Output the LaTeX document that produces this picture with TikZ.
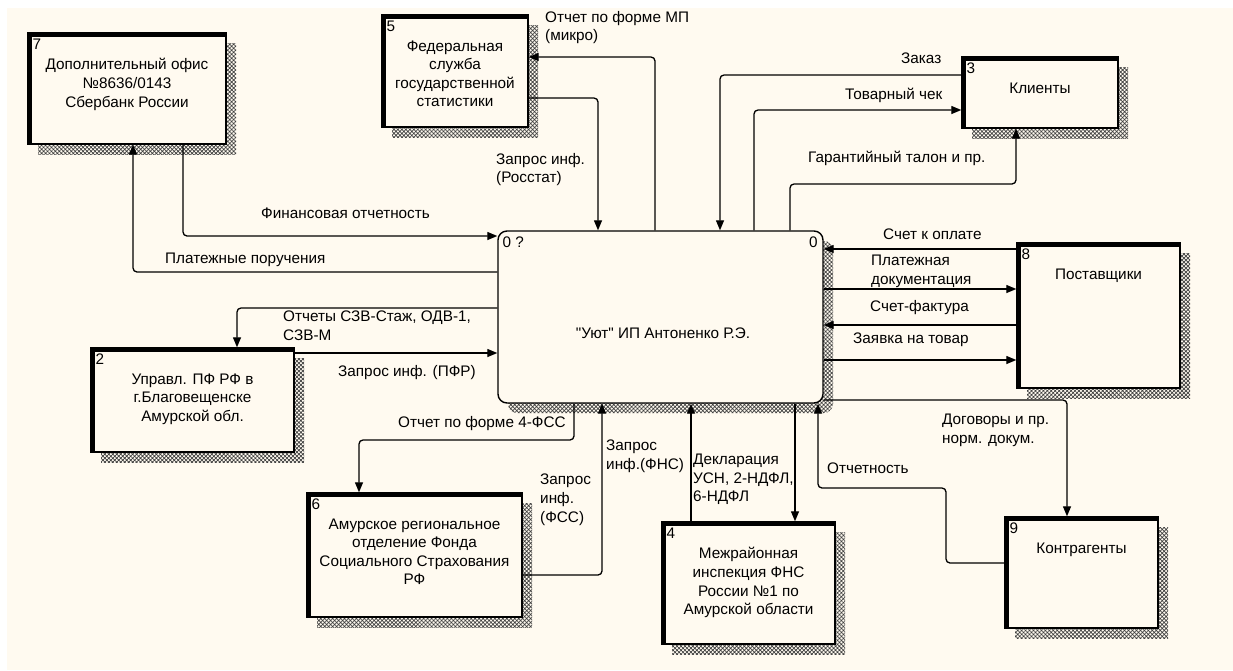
\documentclass[tikz,border=0pt]{standalone}
\usepackage{fontspec}
\setmainfont{Liberation Sans}[Ligatures=TeXOff]
\usetikzlibrary{arrows.meta,shadows,patterns.meta}
\definecolor{idefbg}{RGB}{255,250,240}

\begin{document}
\begin{tikzpicture}[x=1pt, y=-1pt, font=\fontsize{15.3}{18.6}\selectfont,
    hatch/.style={general shadow={shadow xshift=10pt, shadow yshift=-10pt,
        pattern={Hatch[angle=45, distance=2.8pt, line width=0.7pt]}, pattern color=black!75}},
    extbox/.style={draw, line width=1.4pt, fill=idefbg, hatch},
    boxnum/.style={anchor=north west, inner sep=0pt, xshift=5pt, yshift=-6pt},
    boxtxt/.style={anchor=north, align=center, inner sep=0pt, yshift=-26pt},
    mainbox/.style={draw, line width=1.4pt, rounded corners=9pt, fill=idefbg, hatch},
    flow/.style={-{Triangle[length=10pt, width=8pt]}, line width=1.3pt, rounded corners=4pt},
    lbl/.style={anchor=north west, align=left, inner sep=0pt}]

     \useasboundingbox (0,0) rectangle (1233,670);
     \fill[idefbg] (7,8) rectangle (1233,670);

     % Main activity
     \node[mainbox, minimum width=325pt, minimum height=172pt] (main) at (660.5,317) {};
     \node[anchor=north west, inner sep=0pt] (mainnum) at ([shift={(5pt,-6pt)}]main.north west) {0 ?};
     \node[anchor=north east, inner sep=0pt] (mainref) at ([shift={(-6pt,-6pt)}]main.north east) {0};
     \node (maintxt) at (663,333) {"Уют" ИП Антоненко Р.Э.};

     % Sberbank
     \node[extbox, minimum width=198pt, minimum height=111pt,
           label={[boxnum, name=b7num]north west:7},
           label={[boxtxt, name=b7txt]north:{Дополнительный офис\\№8636/0143\\Сбербанк России}}] (b7) at (127,88.5) {};

     % Rosstat
     \node[extbox, minimum width=146pt, minimum height=112pt,
           label={[boxnum, name=b5num]north west:5},
           label={[boxtxt, name=b5txt]north:{Федеральная\\служба\\государственной\\статистики}}] (b5) at (455,71) {};

     % Clients
     \node[extbox, minimum width=156pt, minimum height=71pt,
           label={[boxnum, name=b3num]north west:3},
           label={[boxtxt, name=b3txt]north:{Клиенты}}] (b3) at (1040,92.5) {};

     % Suppliers
     \node[extbox, minimum width=163pt, minimum height=145pt,
           label={[boxnum, name=b8num]north west:8},
           label={[boxtxt, name=b8txt]north:{Поставщики}}] (b8) at (1098.5,315.5) {};

     % Pension fund
     \node[extbox, minimum width=203pt, minimum height=104pt,
           label={[boxnum, name=b2num]north west:2},
           label={[boxtxt, name=b2txt]north:{Управл. ПФ РФ в\\г.Благовещенске\\Амурской обл.}}] (b2) at (192.5,400) {};

     % Social insurance fund
     \node[extbox, minimum width=215pt, minimum height=124pt,
           label={[boxnum, name=b6num]north west:6},
           label={[boxtxt, name=b6txt]north:{Амурское региональное\\отделение Фонда\\Социального Страхования\\РФ}}] (b6) at (414.5,555) {};

     % Tax inspection
     \node[extbox, minimum width=173pt, minimum height=122pt,
           label={[boxnum, name=b4num]north west:4},
           label={[boxtxt, name=b4txt]north:{Межрайонная\\инспекция ФНС\\России №1 по\\Амурской области}}] (b4) at (748.5,583) {};

     % Contractors
     \node[extbox, minimum width=153pt, minimum height=111pt,
           label={[boxnum, name=b9num]north west:9},
           label={[boxtxt, name=b9txt]north:{Контрагенты}}] (b9) at (1081.5,572.5) {};

     % Thick top and left edges
     \foreach \b in {b7,b5,b3,b8,b2,b6,b4,b9}
         \draw[line width=5pt] ([xshift=2pt]\b.south west) |- ([yshift=-2pt]\b.north east);

     % Sberbank flows
     \draw[flow] (183,0 |- b7.south) |- (main.west |- 0,236);
     \draw[flow] (main.west |- 0,272) -| (133,0 |- b7.south);
     \node[lbl] (l-fin) at (261,208) {Финансовая отчетность};
     \node[lbl] (l-pay) at (165,253) {Платежные поручения};

     % Pension fund flows
     \draw[flow] (main.west |- 0,308) -| (237,0 |- b2.north);
     \draw[flow] (b2.east |- 0,353) -- (main.west |- 0,353);
     \node[lbl] (l-szv) at (283,311) {Отчеты СЗВ-Стаж, ОДВ-1,\\СЗВ-М};
     \node[lbl] (l-pfr) at (338,365) {Запрос инф. (ПФР)};

     % Rosstat flows
     \draw[flow] (655,0 |- main.north) |- (b5.east |- 0,57);
     \draw[flow] (b5.east |- 0,98) -| (598,0 |- main.north);
     \node[lbl] (l-mp) at (545,11) {Отчет по форме МП\\(микро)};
     \node[lbl] (l-rosstat) at (496,153) {Запрос инф.\\(Росстат)};

     % Client flows
     \draw[flow] (b3.west |- 0,75) -| (720,0 |- main.north);
     \draw[flow] (754,0 |- main.north) |- (b3.west |- 0,110);
     \draw[flow] (790,0 |- main.north) |- (1016,184) -- (1016,0 |- b3.south);
     \node[lbl] (l-order) at (901,53) {Заказ};
     \node[lbl] (l-check) at (845,88) {Товарный чек};
     \node[lbl] (l-warr) at (808,151) {Гарантийный талон и пр.};

     % Supplier flows
     \draw[flow] (b8.west |- 0,249) -- (main.east |- 0,249);
     \draw[flow] (main.east |- 0,289) -- (b8.west |- 0,289);
     \draw[flow] (b8.west |- 0,325) -- (main.east |- 0,325);
     \draw[flow] (main.east |- 0,360) -- (b8.west |- 0,360);
     \node[lbl] (l-bill) at (883,229) {Счет к оплате};
     \node[lbl] (l-paydoc) at (871,255) {Платежная\\документация};
     \node[lbl] (l-sf) at (870,300) {Счет-фактура};
     \node[lbl] (l-req) at (853,333) {Заявка на товар};

     % Contractor flows
     \draw[flow] (main.east |- 0,400) -| (1067,0 |- b9.north);
     \draw[flow] (b9.west |- 0,563) -| (946,488) -| (818,0 |- main.south);
     \node[lbl] (l-contr) at (942,414) {Договоры и пр.\\норм. докум.};
     \node[lbl] (l-rep) at (827,463) {Отчетность};

     % Social insurance flows
     \draw[flow] (574,0 |- main.south) |- (359,440) -- (359,0 |- b6.north);
     \draw[flow] (b6.east |- 0,575) -| (602,0 |- main.south);
     \node[lbl] (l-fss4) at (398,416) {Отчет по форме 4-ФСС};
     \node[lbl] (l-fss) at (540,474) {Запрос\\инф.\\(ФСС)};

     % Tax flows
     \draw[flow] (691,0 |- b4.north) -- (691,0 |- main.south);
     \draw[flow] (795,0 |- main.south) -- (795,0 |- b4.north);
     \node[lbl] (l-fns) at (606,440) {Запрос\\инф.(ФНС)};
     \node[lbl] (l-decl) at (693,454) {Декларация\\УСН, 2-НДФЛ,\\6-НДФЛ};

\end{tikzpicture}
\end{document}
